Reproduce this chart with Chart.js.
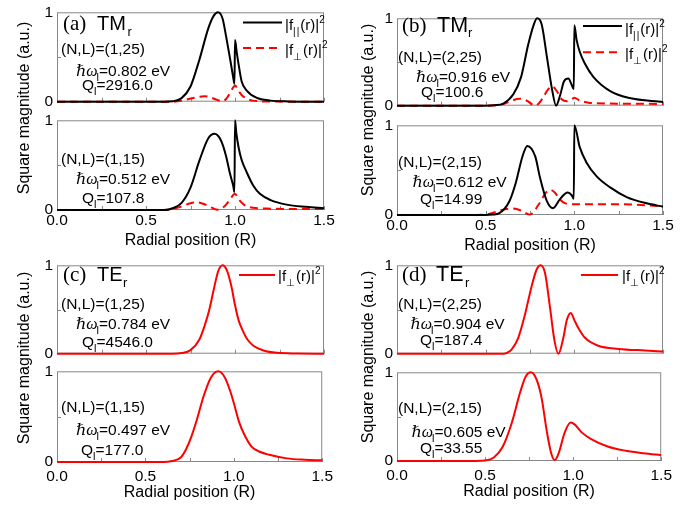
<!DOCTYPE html>
<html>
<head>
<meta charset="utf-8">
<script src="https://cdn.jsdelivr.net/npm/chart.js@4.4.1/dist/chart.umd.min.js"></script>
<style>
  html, body { margin: 0; padding: 0; background: #fff; }
  #wrap { position: relative; width: 695px; height: 508px; overflow: hidden; }
  canvas { position: absolute; }
  svg { position: absolute; left: 0; top: 0; }
  text { font-family: "Liberation Sans", Arial, sans-serif; fill: #000; }
  .sf { font-family: "Liberation Serif", "DejaVu Serif", serif; }
</style>
</head>
<body>
<div id="wrap"></div>
<script>
// ---- data (r in units of R, normalised |f|^2) ----
// (a) TMr, (N,L)=(1,25)
const aTopParX  = [0, 0.6, 0.65, 0.7, 0.75, 0.8, 0.85, 0.88, 0.905, 0.93, 0.95, 0.975, 0.99, 0.997, 1.0, 1.01, 1.02, 1.037, 1.066, 1.12, 1.2, 1.3, 1.5];
const aTopParY  = [0, 0, 0.005, 0.04, 0.17, 0.47, 0.82, 0.96, 1.0, 0.93, 0.73, 0.45, 0.27, 0.2, 0.69, 0.55, 0.42, 0.23, 0.125, 0.045, 0.012, 0.003, 0];
const aTopPerpX = [0, 0.65, 0.7, 0.75, 0.8, 0.83, 0.86, 0.9, 0.93, 0.95, 0.97, 0.99, 1.0, 1.02, 1.04, 1.07, 1.1, 1.2, 1.5];
const aTopPerpY = [0, 0, 0.01, 0.035, 0.055, 0.06, 0.05, 0.02, 0.003, 0.03, 0.09, 0.16, 0.18, 0.12, 0.07, 0.03, 0.012, 0.002, 0];
// (a) TMr, (N,L)=(1,15)
const aBotParX  = [0, 0.6, 0.65, 0.7, 0.75, 0.8, 0.85, 0.885, 0.92, 0.95, 0.97, 0.99, 0.997, 1.0, 1.008, 1.02, 1.037, 1.066, 1.103, 1.14, 1.2, 1.29, 1.4, 1.5];
const aBotParY  = [0, 0, 0.02, 0.08, 0.25, 0.55, 0.8, 0.85, 0.78, 0.6, 0.42, 0.27, 0.2, 1.0, 0.85, 0.7, 0.56, 0.42, 0.27, 0.18, 0.11, 0.06, 0.035, 0.02];
const aBotPerpX = [0, 0.6, 0.65, 0.7, 0.75, 0.785, 0.82, 0.86, 0.9, 0.94, 0.97, 1.0, 1.02, 1.05, 1.1, 1.2, 1.3, 1.5];
const aBotPerpY = [0, 0, 0.01, 0.04, 0.075, 0.085, 0.07, 0.035, 0.003, 0.04, 0.11, 0.18, 0.12, 0.06, 0.025, 0.015, 0.012, 0.01];
// (b) TMr, (N,L)=(2,25)
const bTopParX  = [0, 0.5, 0.55, 0.6, 0.656, 0.7, 0.74, 0.77, 0.79, 0.816, 0.846, 0.874, 0.897, 0.92, 0.942, 0.966, 0.985, 0.997, 1.0, 1.013, 1.03, 1.06, 1.107, 1.2, 1.31, 1.5];
const bTopParY  = [0, 0, 0.005, 0.025, 0.13, 0.33, 0.7, 0.92, 1.0, 0.93, 0.55, 0.19, 0.0, 0.12, 0.28, 0.31, 0.24, 0.19, 0.92, 0.75, 0.62, 0.48, 0.33, 0.17, 0.087, 0.043];
const bTopPerpX = [0, 0.5, 0.6, 0.65, 0.69, 0.73, 0.78, 0.82, 0.85, 0.876, 0.9, 0.93, 0.96, 0.99, 1.0, 1.03, 1.08, 1.2, 1.5];
const bTopPerpY = [0, 0, 0.02, 0.06, 0.08, 0.06, 0.0, 0.08, 0.18, 0.22, 0.17, 0.07, 0.05, 0.08, 0.09, 0.06, 0.035, 0.025, 0.02];
// (b) TMr, (N,L)=(2,15)
const bBotParX  = [0, 0.5, 0.54, 0.577, 0.633, 0.67, 0.707, 0.735, 0.78, 0.806, 0.844, 0.88, 0.92, 0.963, 0.985, 0.997, 1.0, 1.03, 1.07, 1.126, 1.2, 1.295, 1.408, 1.5];
const bBotParY  = [0, 0, 0.005, 0.02, 0.15, 0.36, 0.65, 0.77, 0.65, 0.42, 0.16, 0.075, 0.18, 0.25, 0.22, 0.18, 1.0, 0.76, 0.58, 0.43, 0.31, 0.2, 0.13, 0.093];
const bBotPerpX = [0, 0.45, 0.5, 0.55, 0.6, 0.647, 0.7, 0.75, 0.8, 0.84, 0.865, 0.89, 0.92, 0.95, 1.0, 1.2, 1.35, 1.5];
const bBotPerpY = [0, 0, 0.005, 0.03, 0.06, 0.072, 0.05, 0.005, 0.12, 0.25, 0.28, 0.25, 0.17, 0.13, 0.12, 0.12, 0.115, 0.095];
// (c) TEr
const cTopX = [0, 0.65, 0.7, 0.75, 0.8, 0.83, 0.856, 0.88, 0.905, 0.93, 0.955, 0.98, 1.0, 1.02, 1.046, 1.07, 1.103, 1.16, 1.234, 1.35, 1.5];
const cTopY = [0, 0, 0.008, 0.04, 0.16, 0.32, 0.5, 0.72, 0.93, 1.0, 0.94, 0.76, 0.55, 0.38, 0.25, 0.16, 0.09, 0.036, 0.01, 0.003, 0];
const cBotX = [0, 0.6, 0.65, 0.7, 0.73, 0.76, 0.79, 0.83, 0.87, 0.912, 0.95, 0.98, 1.0, 1.03, 1.06, 1.1, 1.15, 1.2, 1.3, 1.4, 1.5];
const cBotY = [0, 0, 0.01, 0.05, 0.14, 0.28, 0.46, 0.73, 0.93, 1.0, 0.93, 0.78, 0.65, 0.44, 0.3, 0.17, 0.11, 0.08, 0.04, 0.025, 0.018];
// (d) TEr
const dTopX = [0, 0.6, 0.62, 0.647, 0.684, 0.72, 0.76, 0.787, 0.81, 0.835, 0.863, 0.887, 0.91, 0.938, 0.957, 0.98, 1.0, 1.02, 1.06, 1.135, 1.25, 1.4, 1.5];
const dTopY = [0, 0, 0.01, 0.05, 0.18, 0.43, 0.77, 0.95, 1.0, 0.91, 0.52, 0.16, 0.0, 0.18, 0.375, 0.46, 0.38, 0.3, 0.18, 0.09, 0.054, 0.036, 0.025];
const dBotX = [0, 0.45, 0.5, 0.55, 0.6, 0.65, 0.7, 0.73, 0.76, 0.79, 0.82, 0.85, 0.875, 0.895, 0.92, 0.95, 0.985, 1.01, 1.05, 1.1, 1.2, 1.3, 1.4, 1.5];
const dBotY = [0, 0, 0.005, 0.04, 0.16, 0.42, 0.78, 0.95, 1.0, 0.93, 0.72, 0.34, 0.09, 0.01, 0.1, 0.31, 0.435, 0.41, 0.32, 0.25, 0.16, 0.115, 0.087, 0.065];

// labels, in order aTop, aBot, bTop, bBot, cTop, cBot, dTop, dBot
const modeNL     = ['(1,25)', '(1,15)', '(2,25)', '(2,15)', '(1,25)', '(1,15)', '(2,25)', '(2,15)'];
const modeEnergy = ['0.802', '0.512', '0.916', '0.612', '0.784', '0.497', '0.904', '0.605'];
const modeQ      = ['2916.0', '107.8', '100.6', '14.99', '4546.0', '177.0', '187.4', '33.55'];
const panelTags  = ['(a)', '(b)', '(c)', '(d)'];
const panelModes = ['TM', 'TM', 'TE', 'TE'];
const xTicks = [0, 0.5, 1.0, 1.5];

const FONT = '"Liberation Sans", Arial, sans-serif';

// plot rectangles in page pixels
const plots = [
  { L: 57,  T: 9,   W: 267, H: 94, lower: false, sets: [[aTopParX, aTopParY, 'par'], [aTopPerpX, aTopPerpY, 'perp']] },
  { L: 57,  T: 117, W: 267, H: 93, lower: true, pad: 1, sets: [[aBotParX, aBotParY, 'par'], [aBotPerpX, aBotPerpY, 'perp']] },
  { L: 397, T: 15,  W: 266, H: 92, lower: false, sets: [[bTopParX, bTopParY, 'par'], [bTopPerpX, bTopPerpY, 'perp']] },
  { L: 397, T: 122, W: 266, H: 93, lower: true, pad: 1, sets: [[bBotParX, bBotParY, 'par'], [bBotPerpX, bBotPerpY, 'perp']] },
  { L: 57,  T: 262, W: 267, H: 93, lower: false, sets: [[cTopX, cTopY, 'te']] },
  { L: 57,  T: 368, W: 267, H: 94, lower: true, pad: 5, sets: [[cBotX, cBotY, 'te']] },
  { L: 397, T: 262, W: 266, H: 93, lower: false, sets: [[dTopX, dTopY, 'te']] },
  { L: 397, T: 369, W: 266, H: 92, lower: true, pad: 5, sets: [[dBotX, dBotY, 'te']] }
];

// frame + inward tick marks, drawn under the curves
const boxPlugin = {
  id: 'box',
  beforeDatasetsDraw(chart) {
    const { ctx, chartArea: a, scales: { x, y } } = chart;
    ctx.save();
    ctx.strokeStyle = '#888';
    ctx.lineWidth = 1;
    ctx.strokeRect(a.left + 0.5, a.top + 0.5, a.width - 1, a.height - 1);
    ctx.beginPath();
    x.ticks.forEach(t => {
      const px = Math.round(x.getPixelForValue(t.value)) + 0.5;
      ctx.moveTo(px, a.bottom);
      ctx.lineTo(px, a.bottom - 4);
    });
    const py = Math.round(y.getPixelForValue(0.5)) + 0.5;
    ctx.moveTo(a.left, py);
    ctx.lineTo(a.left + 4, py);
    ctx.stroke();
    ctx.restore();
  }
};

function buildSets(list) {
  return list.map(([xs, ys, kind]) => ({
    data: xs.map((x, i) => ({ x, y: ys[i] })),
    borderColor: kind === 'par' ? '#000' : '#f00',
    borderWidth: 2,
    borderDash: kind === 'perp' ? [8, 5] : [],
    pointRadius: 0,
    cubicInterpolationMode: 'monotone',
    clip: false
  }));
}

const wrap = document.getElementById('wrap');

plots.forEach(p => {
  const cv = document.createElement('canvas');
  const axisH = p.lower ? 50 : 12;
  cv.width = 40 + p.W + 14;
  cv.height = 10 + p.H + axisH;
  cv.style.left = (p.L - 40) + 'px';
  cv.style.top = (p.T - 10) + 'px';
  wrap.appendChild(cv);

  new Chart(cv.getContext('2d'), {
    type: 'line',
    data: { datasets: buildSets(p.sets) },
    options: {
      responsive: false,
      animation: false,
      devicePixelRatio: 1,
      layout: { padding: { left: 0, top: 10, right: 14, bottom: 0 } },
      plugins: { legend: { display: false }, tooltip: { enabled: false } },
      scales: {
        x: {
          type: 'linear', min: 0, max: 1.5,
          grid: { display: false, drawTicks: false },
          border: { display: false },
          ticks: {
            stepSize: 0.25, autoSkip: false, maxRotation: 0,
            padding: p.pad || 0,
            color: '#000', font: { family: FONT, size: 15.5 },
            callback: v => (p.lower && xTicks.some(t => Math.abs(t - v) < 1e-6)) ? v.toFixed(1) : ''
          },
          title: {
            display: p.lower, text: 'Radial position (R)', color: '#000',
            font: { family: FONT, size: 16 }, padding: { top: 0, bottom: 10 }
          },
          afterFit(s) { s.height = axisH; }
        },
        y: {
          min: 0, max: 1,
          grid: { display: false, drawTicks: false },
          border: { display: false },
          ticks: {
            stepSize: 0.5, padding: 4, color: '#000',
            font: { family: FONT, size: 15.5 },
            callback: v => (v === 0 || v === 1) ? String(v) : ''
          },
          afterFit(s) { s.width = 40; }
        }
      }
    },
    plugins: [boxPlugin]
  });
});

// ---- text overlay: panel titles, mode parameters, legends, y titles ----
const annotPos = [
  [61, 53.5, 76, 76, 82, 90],
  [61, 163.5, 76, 183.5, 82, 202.5],
  [398, 61.5, 416, 81.5, 421, 96.5],
  [398, 166.5, 412.5, 187, 420, 203.5],
  [61, 308.5, 76, 328.5, 82, 346.5],
  [61, 411.5, 76, 435, 81, 455],
  [398, 308.5, 410.5, 328.5, 420, 345],
  [398, 413, 411.5, 436.5, 420, 452.5]
];
// tag x, mode x, baseline, mode size, subscript x, subscript baseline
const headPos = [
  [63, 97, 30, 20, 127.5, 35.5],
  [402, 437, 32, 21.5, 468, 37],
  [63, 97, 280.7, 20, 123, 287],
  [402, 436, 280.7, 21.5, 465, 287]
];

let s = '';
annotPos.forEach(([xn, bn, xe, be, xq, bq], i) => {
  s += `<text x="${xn}" y="${bn}" font-size="15.5">(N,L)=${modeNL[i]}</text>`;
  s += `<text x="${xe}" y="${be}" font-size="15.5"><tspan class="sf" font-style="italic" font-size="16">ℏω</tspan><tspan font-size="11" dy="5" dx="-1">l</tspan><tspan dy="-5">=${modeEnergy[i]} eV</tspan></text>`;
  s += `<text x="${xq}" y="${bq}" font-size="15.5">Q<tspan font-size="11" dy="5">l</tspan><tspan dy="-5">=${modeQ[i]}</tspan></text>`;
});
headPos.forEach(([xt, xm, b, fs, xs, bs], i) => {
  s += `<text class="sf" x="${xt}" y="${b}" font-size="21">${panelTags[i]}</text>`;
  s += `<text x="${xm}" y="${b}" font-size="${fs}">${panelModes[i]}</text>`;
  s += `<text x="${xs}" y="${bs}" font-size="13">r</text>`;
});

function legendItem(x1, x2, y, color, dashed, tx, tb, sub) {
  let out = `<line x1="${x1}" y1="${y}" x2="${x2}" y2="${y}" stroke="${color}" stroke-width="2"${dashed ? ' stroke-dasharray="8,5"' : ''}/>`;
  out += `<text x="${tx}" y="${tb}" font-size="15">|f<tspan font-size="10" dy="5" letter-spacing="1">${sub}</tspan><tspan dy="-5">(r)|</tspan><tspan font-size="10" dy="-7">2</tspan></text>`;
  return out;
}
s += legendItem(243, 282, 22.5, '#000', false, 285, 30, '||');
s += legendItem(243, 282, 48, '#f00', true, 285, 55, '⊥');
s += legendItem(583, 622, 26, '#000', false, 625, 34, '||');
s += legendItem(583, 622, 52.3, '#f00', true, 625, 59, '⊥');
s += legendItem(239, 275, 275, '#f00', false, 278, 281, '⊥');
s += legendItem(581, 618, 275, '#f00', false, 622, 281, '⊥');

[[29, 108], [29, 358], [373, 110], [373, 357]].forEach(([x, y]) => {
  s += `<text transform="translate(${x},${y}) rotate(-90)" text-anchor="middle" font-size="16">Square magnitude (a.u.)</text>`;
});

const svg = document.createElementNS('http://www.w3.org/2000/svg', 'svg');
svg.setAttribute('width', '695');
svg.setAttribute('height', '508');
svg.innerHTML = s;
wrap.appendChild(svg);
</script>
</body>
</html>
